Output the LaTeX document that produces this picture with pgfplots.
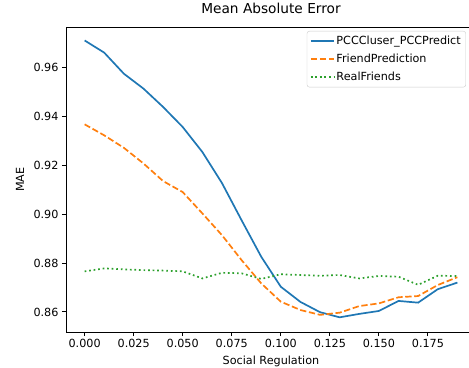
\documentclass[border=0pt]{standalone}
\usepackage{fontspec}
\setmainfont{DejaVu Sans}
\usepackage{pgfplots}
\pgfplotsset{compat=1.18}
\definecolor{c0}{HTML}{1F77B4}
\definecolor{c1}{HTML}{FF7F0E}
\definecolor{c2}{HTML}{2CA02C}
\pgfplotstableread{
x blue orange green
0.00 0.9710 0.9367 0.8766
0.01 0.9660 0.9322 0.8778
0.02 0.9574 0.9271 0.8774
0.03 0.9513 0.9207 0.8771
0.04 0.9438 0.9135 0.8769
0.05 0.9356 0.9090 0.8766
0.06 0.9254 0.9003 0.8737
0.07 0.9127 0.8914 0.8760
0.08 0.8975 0.8812 0.8758
0.09 0.8826 0.8717 0.8735
0.10 0.8703 0.8642 0.8754
0.11 0.8641 0.8608 0.8751
0.12 0.8599 0.8588 0.8748
0.13 0.8578 0.8597 0.8751
0.14 0.8592 0.8624 0.8737
0.15 0.8604 0.8635 0.8747
0.16 0.8645 0.8660 0.8744
0.17 0.8638 0.8665 0.8711
0.18 0.8693 0.8710 0.8748
0.19 0.8720 0.8742 0.8747
}\data
\begin{document}
\begin{tikzpicture}
\useasboundingbox (-66bp,-36bp) rectangle (403bp,332bp);
\begin{axis}[
  scale only axis, width=410bp, height=305bp,
  xmin=-0.0095, xmax=0.1995, ymin=0.8518, ymax=0.9765,
  xtick={0,0.025,0.05,0.075,0.1,0.125,0.15,0.175},
  ytick={0.86,0.88,0.90,0.92,0.94,0.96},
  scaled ticks=false,
  tick align=outside, tick pos=left,
  major tick length=4bp,
  every tick/.style={black, line width=0.9bp},
  axis line style={line width=0.9bp},
  /pgf/number format/assume math mode=true,
  xticklabel style={/pgf/number format/.cd, fixed, fixed zerofill, precision=3},
  yticklabel style={/pgf/number format/.cd, fixed, fixed zerofill, precision=2},
  tick label style={font=\fontsize{11.2bp}{13.4bp}\selectfont},
  xlabel={Social Regulation}, ylabel={MAE},
  label style={font=\fontsize{11.2bp}{13.4bp}\selectfont},
  xlabel style={at={(axis description cs:0.5,0)}, anchor=base, yshift=-32bp},
  ylabel style={at={(axis description cs:-0.1122,0.5)}, anchor=center},
  title={Mean Absolute Error},
  title style={font=\fontsize{13.7bp}{16bp}\selectfont, at={(axis description cs:0.5,1)}, anchor=base, yshift=7.5bp},
  legend style={at={(0.9756,0.9869)}, anchor=north east, draw=black!20, rounded corners=2.5bp,
    font=\fontsize{11.2bp}{13.4bp}\selectfont, inner sep=3bp, row sep=4bp,
    /tikz/every even column/.append style={column sep=4bp}},
  legend cell align=left,
  legend image code/.code={\draw[#1, line width=1.7bp] (0bp,0bp) -- (22.8bp,0bp);},
]
\addplot[c0, line width=1.7bp] table[x=x,y=blue] {\data};
\addlegendentry{PCCCluser\_PCCPredict}
\addplot[c1, line width=1.7bp, dash pattern=on 6.3bp off 2.7bp] table[x=x,y=orange] {\data};
\addlegendentry{FriendPrediction}
\addplot[c2, line width=1.7bp, dash pattern=on 1.7bp off 2.85bp] table[x=x,y=green] {\data};
\addlegendentry{RealFriends}
\end{axis}
\end{tikzpicture}
\end{document}
